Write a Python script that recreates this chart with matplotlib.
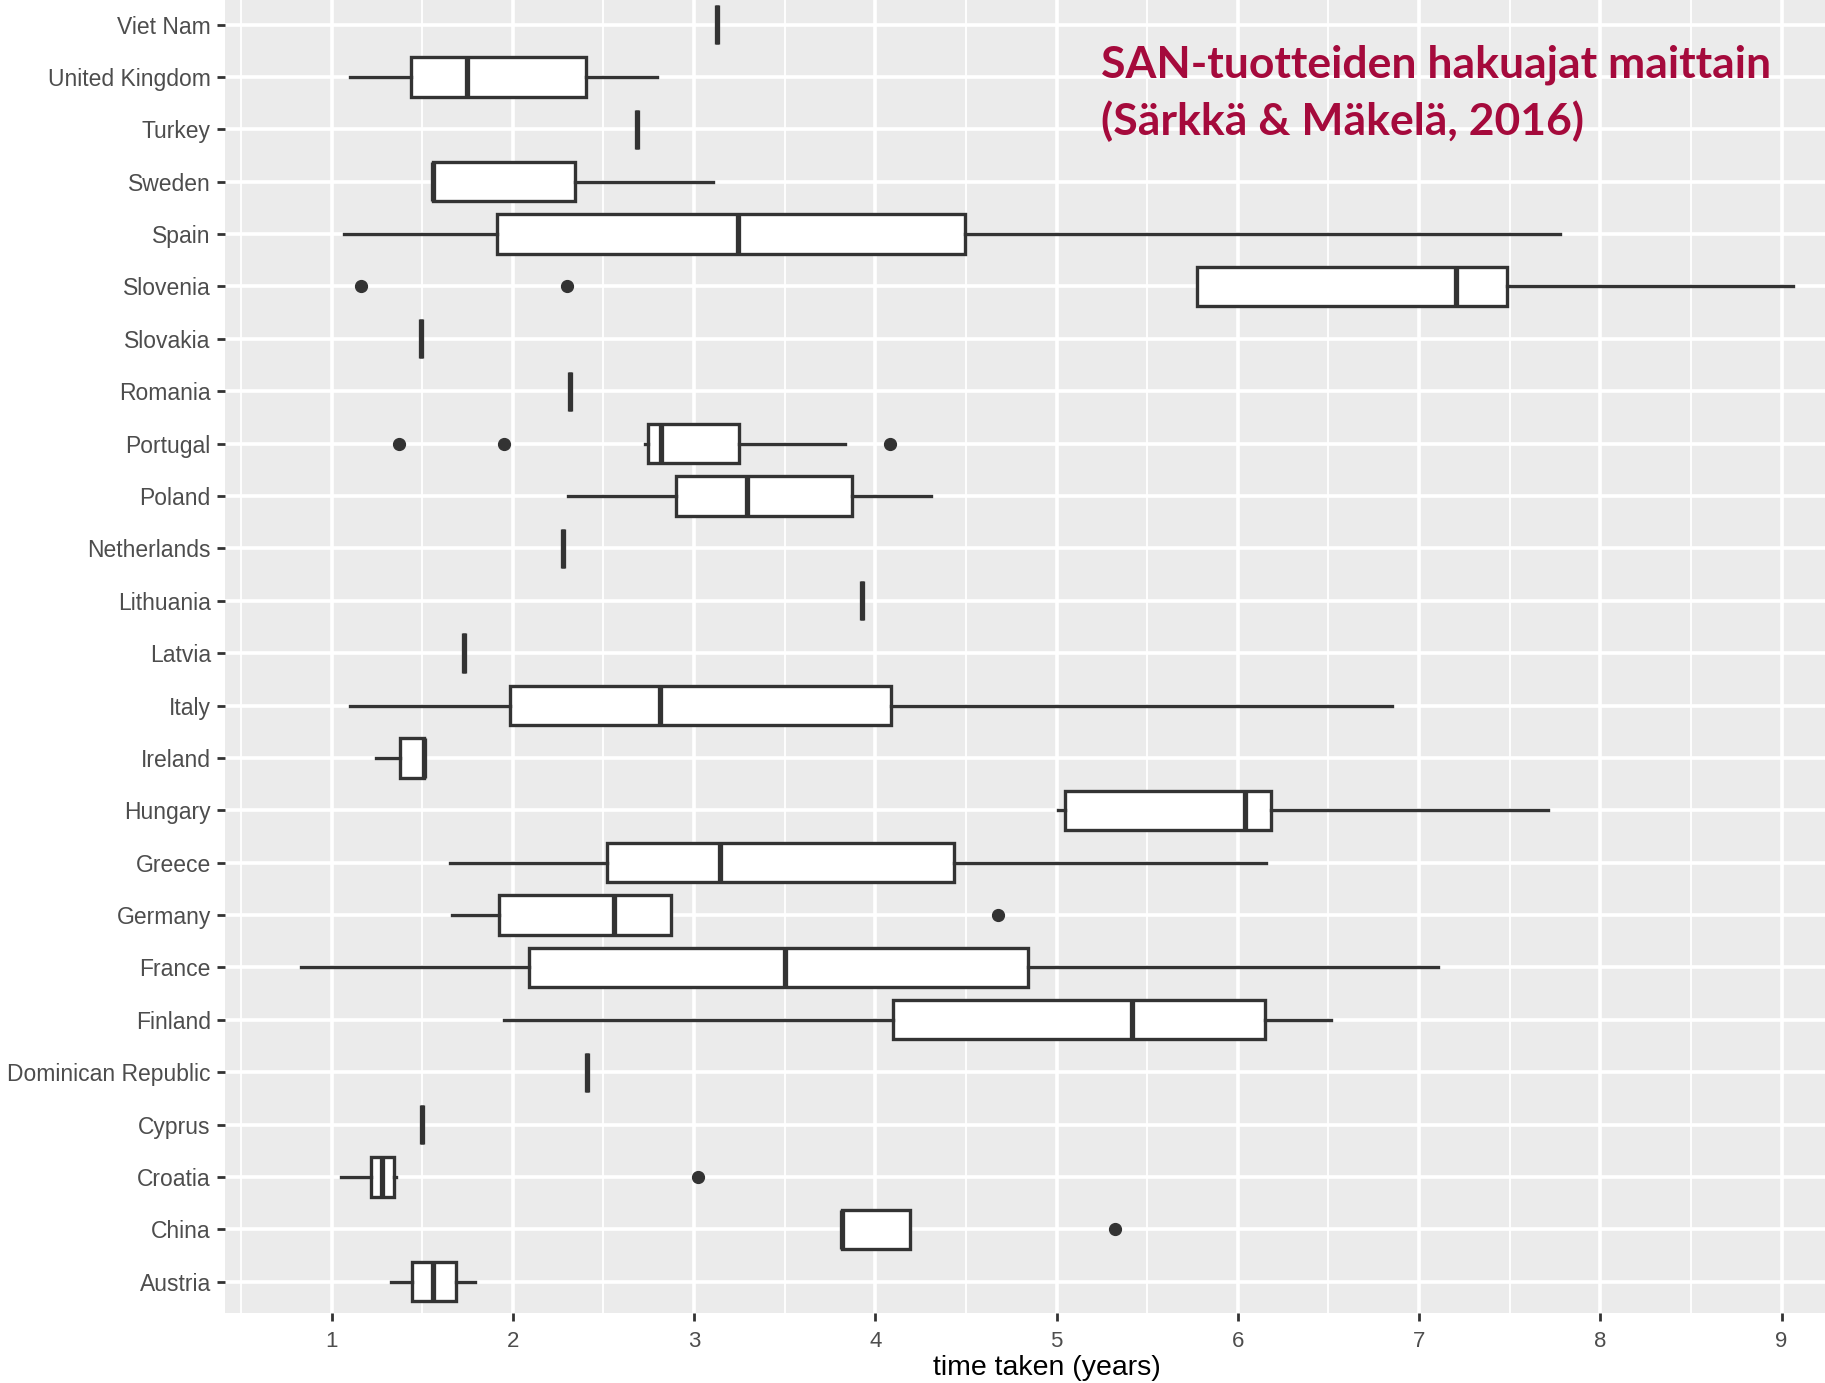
import numpy as np
import matplotlib
matplotlib.use('Agg')
import matplotlib.pyplot as plt
from matplotlib.ticker import MultipleLocator

# data, bottom row first
countries = ['Austria', 'China', 'Croatia', 'Cyprus', 'Dominican Republic', 'Finland',
             'France', 'Germany', 'Greece', 'Hungary', 'Ireland', 'Italy', 'Latvia',
             'Lithuania', 'Netherlands', 'Poland', 'Portugal', 'Romania', 'Slovakia',
             'Slovenia', 'Spain', 'Sweden', 'Turkey', 'United Kingdom', 'Viet Nam']
whislo = [1.327, 3.818, 1.051, 1.498, 2.409, 1.950, 0.833, 1.665, 1.655, 5.007, 1.246, 1.103, 1.732,
          3.928, 2.278, 2.305, 2.731, 2.314, 1.494, 5.775, 1.069, 1.559, 2.687, 1.099, 3.125]
q1 = [1.441, 3.818, 1.217, 1.498, 2.409, 4.095, 2.091, 1.921, 2.522, 5.047, 1.377, 1.982, 1.732,
      3.928, 2.278, 2.899, 2.746, 2.314, 1.494, 5.775, 1.911, 1.559, 2.687, 1.438, 3.125]
med = [1.561, 3.818, 1.277, 1.498, 2.409, 5.417, 3.499, 2.556, 3.144, 6.041, 1.511, 2.811, 1.732,
       3.928, 2.278, 3.290, 2.815, 2.314, 1.494, 7.206, 3.241, 1.559, 2.687, 1.746, 3.125]
q3 = [1.684, 4.191, 1.345, 1.498, 2.409, 6.149, 4.842, 2.874, 4.435, 6.181, 1.511, 4.088, 1.732,
      3.928, 2.278, 3.874, 3.250, 2.314, 1.494, 7.486, 4.493, 2.342, 2.687, 2.404, 3.125]
whishi = [1.794, 4.191, 1.355, 1.498, 2.409, 6.515, 7.106, 2.874, 6.156, 7.709, 1.511, 6.849, 1.732,
          3.928, 2.278, 4.305, 3.834, 2.314, 1.494, 9.063, 7.780, 3.106, 2.687, 2.797, 3.125]
fliers = [[], [5.321], [3.022], [], [], [], [], [4.676], [], [], [], [], [],
          [], [], [], [1.372, 1.950, 4.083], [], [], [1.165, 2.298], [], [], [], [], []]

title_txt = 'SAN-tuotteiden hakuajat maittain\n(Särkkä & Mäkelä, 2016)'

stats = []
for i, c in enumerate(countries):
    stats.append(dict(label=c, whislo=whislo[i], q1=q1[i], med=med[i],
                      q3=q3[i], whishi=whishi[i], fliers=fliers[i]))

fig = plt.figure(figsize=(18.25, 13.83), dpi=100)
ax = fig.add_axes([0.1231, 0.0505, 0.8769, 0.9545])
ax.set_facecolor('#EBEBEB')
for s in ax.spines.values():
    s.set_visible(False)

dark = '#333333'
pos = np.arange(1, len(countries) + 1)
ax.bxp(stats, positions=pos, widths=0.75, orientation='horizontal', showcaps=False,
       patch_artist=True,
       boxprops=dict(facecolor='white', edgecolor=dark, linewidth=2.4),
       medianprops=dict(color=dark, linewidth=3.8),
       whiskerprops=dict(color=dark, linewidth=2.4),
       flierprops=dict(marker='o', markerfacecolor=dark, markeredgecolor=dark, markersize=8.5))

ax.set_xlim(0.41, 9.24)
ax.set_ylim(0.4, 25.6)
ax.xaxis.set_major_locator(MultipleLocator(1))
ax.xaxis.set_minor_locator(MultipleLocator(0.5))
ax.set_yticks(pos)
ax.set_yticklabels(countries)
ax.grid(which='major', color='white', linewidth=2.6)
ax.grid(which='minor', axis='x', color='white', linewidth=1.3)
ax.set_axisbelow(True)
ax.tick_params(axis='both', which='major', length=6, width=2, color=dark, labelcolor='#4D4D4D')
ax.tick_params(axis='y', labelsize=16.5, pad=4)
ax.tick_params(axis='x', labelsize=16, pad=7)
ax.tick_params(which='minor', length=0)
for lab in ax.get_xticklabels() + ax.get_yticklabels():
    lab.set_family('Liberation Sans')
ax.set_xlabel('time taken (years)', fontsize=20.5, family='Liberation Sans')
ax.xaxis.set_label_coords(0.514, -0.032)

fig.text(0.6033, 0.968, title_txt, color='#A50A3C', fontsize=32, family='Lato',
         fontweight='bold', va='top', ha='left', linespacing=1.45)

fig.savefig('out.png', dpi=100)
